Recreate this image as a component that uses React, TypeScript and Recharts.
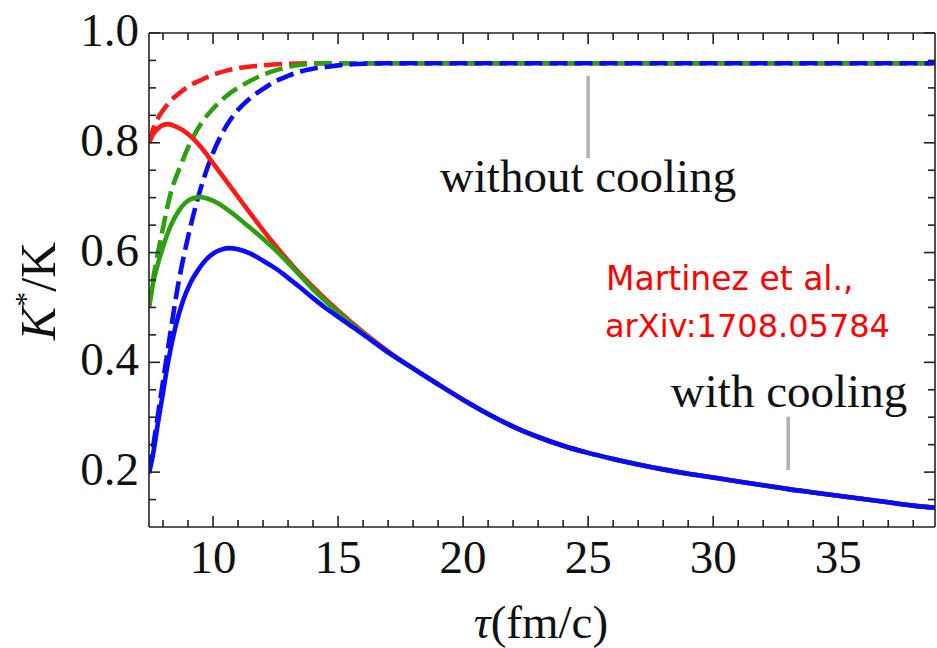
import { Line, LineChart, ReferenceLine, XAxis, YAxis } from 'recharts';

// ---- axes ----
const X_DOMAIN: [number, number] = [7.44, 38.87];
const Y_DOMAIN: [number, number] = [0.1, 1.0];
const X_TICKS = [8, 9, 10, 11, 12, 13, 14, 15, 16, 17, 18, 19, 20, 21, 22, 23, 24, 25, 26, 27, 28, 29, 30, 31, 32, 33, 34, 35, 36, 37, 38];
const Y_TICKS = [0.15, 0.2, 0.25, 0.3, 0.35, 0.4, 0.45, 0.5, 0.55, 0.6, 0.65, 0.7, 0.75, 0.8, 0.85, 0.9, 0.95, 1.0];

// ---- with cooling (solid) ----
const RED_SOLID_T = [7.44, 7.6, 7.8, 8.0, 8.2, 8.5, 9.0, 9.5, 10.0, 10.6, 11.3, 12.0, 12.6, 13.3, 14.0, 15.0, 16.0, 17.0];
const RED_SOLID_V = [0.8, 0.815, 0.826, 0.832, 0.834, 0.83, 0.816, 0.793, 0.763, 0.726, 0.683, 0.641, 0.607, 0.57, 0.537, 0.494, 0.455, 0.42];

const GREEN_SOLID_T = [7.44, 7.6, 7.8, 8.0, 8.3, 8.6, 8.9, 9.2, 9.5, 9.8, 10.2, 10.7, 11.3, 12.0, 12.6, 13.3, 14.0, 15.0, 16.0, 17.0];
const GREEN_SOLID_V = [0.5, 0.543, 0.58, 0.61, 0.648, 0.674, 0.691, 0.699, 0.701, 0.698, 0.69, 0.674, 0.652, 0.625, 0.6, 0.567, 0.533, 0.491, 0.453, 0.418];

const BLUE_SOLID_T = [7.44, 7.6, 7.8, 8.0, 8.2, 8.5, 8.8, 9.1, 9.4, 9.7, 10.0, 10.3, 10.6, 11.0, 11.5, 12.0, 12.5, 13.0, 13.5, 14.0, 14.5, 15.0, 15.5, 16.0, 17.0];
const BLUE_SOLID_V = [0.198, 0.232, 0.29, 0.345, 0.4, 0.465, 0.512, 0.545, 0.568, 0.586, 0.598, 0.605, 0.608, 0.606, 0.598, 0.585, 0.571, 0.554, 0.536, 0.517, 0.499, 0.483, 0.467, 0.451, 0.418];

// the three solid curves coincide from here on
const TAIL_T = [18, 19, 20, 21, 22, 23, 24, 25, 26, 27, 28, 29, 30, 31, 32, 33, 34, 35, 36, 37, 38, 38.87];
const TAIL_V = [0.389, 0.36, 0.332, 0.306, 0.283, 0.264, 0.248, 0.235, 0.224, 0.214, 0.205, 0.197, 0.19, 0.183, 0.176, 0.169, 0.163, 0.157, 0.151, 0.145, 0.139, 0.135];

// ---- without cooling (dashed) ----
const RED_DASH_T = [7.44, 7.6, 7.8, 8.0, 8.3, 8.7, 9.0, 9.5, 10.0, 10.5, 11.0, 12.0, 13.0, 14.0, 38.87];
const RED_DASH_V = [0.8, 0.824, 0.845, 0.859, 0.876, 0.892, 0.902, 0.914, 0.924, 0.931, 0.936, 0.941, 0.944, 0.945, 0.945];

const GREEN_DASH_T = [7.44, 7.6, 7.8, 8.0, 8.3, 8.7, 9.1, 9.6, 10.0, 10.5, 11.0, 11.5, 12.0, 12.5, 13.0, 13.5, 14.5, 38.87];
const GREEN_DASH_V = [0.5, 0.55, 0.6, 0.645, 0.707, 0.758, 0.801, 0.84, 0.862, 0.884, 0.9, 0.913, 0.924, 0.932, 0.938, 0.942, 0.945, 0.945];

const BLUE_DASH_T = [7.44, 7.6, 7.8, 8.0, 8.3, 8.6, 9.0, 9.4, 9.9, 10.5, 11.0, 11.5, 12.0, 12.5, 13.0, 13.5, 14.0, 14.5, 15.0, 16.0, 17.0, 38.87];
const BLUE_DASH_V = [0.2, 0.245, 0.305, 0.365, 0.455, 0.54, 0.628, 0.7, 0.77, 0.828, 0.86, 0.882, 0.898, 0.912, 0.922, 0.93, 0.935, 0.938, 0.941, 0.944, 0.945, 0.945];

const RED = '#ff1a1a';
const GREEN = '#2f9f12';
const BLUE = '#0a0aff';
const FRAME = '#222';
const SERIF = '"Liberation Serif", "Times New Roman", serif';
const LINE_W = 4.6;
const DASH = '18 7';

const zip = (t: number[], v: number[]) => t.map((x, i) => ({ t: x, v: v[i] }));

const redSolid = zip([...RED_SOLID_T, ...TAIL_T], [...RED_SOLID_V, ...TAIL_V]);
const greenSolid = zip([...GREEN_SOLID_T, ...TAIL_T], [...GREEN_SOLID_V, ...TAIL_V]);
const blueSolid = zip([...BLUE_SOLID_T, ...TAIL_T], [...BLUE_SOLID_V, ...TAIL_V]);
const redDash = zip(RED_DASH_T, RED_DASH_V);
const greenDash = zip(GREEN_DASH_T, GREEN_DASH_V);
const blueDash = zip(BLUE_DASH_T, BLUE_DASH_V);

const isMajorX = (v: number) => v % 5 === 0;
const isMajorY = (v: number) => Math.abs(v * 5 - Math.round(v * 5)) < 1e-6;

const LABEL_STYLE = { fontFamily: SERIF, fontSize: 47, fill: '#111' };

function BottomTick({ x, y, payload }: any) {
  const major = isMajorX(payload.value);
  return (
    <g>
      <line x1={x} x2={x} y1={y} y2={y - (major ? 11 : 7)} stroke={FRAME} strokeWidth={1.6} />
      {major && (
        <text x={x} y={y + 46} textAnchor="middle" {...LABEL_STYLE}>
          {payload.value}
        </text>
      )}
    </g>
  );
}

function TopTick({ x, y, payload }: any) {
  const major = isMajorX(payload.value);
  return <line x1={x} x2={x} y1={y} y2={y + (major ? 11 : 7)} stroke={FRAME} strokeWidth={1.6} />;
}

function LeftTick({ x, y, payload }: any) {
  const major = isMajorY(payload.value);
  return (
    <g>
      <line x1={x} x2={x + (major ? 11 : 7)} y1={y} y2={y} stroke={FRAME} strokeWidth={1.6} />
      {major && (
        <text x={x - 10} y={y + 13} textAnchor="end" {...LABEL_STYLE}>
          {payload.value.toFixed(1)}
        </text>
      )}
    </g>
  );
}

function RightTick({ x, y, payload }: any) {
  const major = isMajorY(payload.value);
  return <line x1={x} x2={x - (major ? 11 : 7)} y1={y} y2={y} stroke={FRAME} strokeWidth={1.6} />;
}

const AXIS_LINE = { stroke: FRAME, strokeWidth: 1.6 };

export default function App() {
  return (
    <div style={{ position: 'absolute', left: 0, top: 0, width: 937, height: 648, background: '#fff' }}>
      <LineChart width={937} height={648} margin={{ top: 0, right: 0, bottom: 0, left: 0 }}>
        <XAxis
          dataKey="t"
          type="number"
          domain={X_DOMAIN}
          allowDataOverflow
          ticks={X_TICKS}
          interval={0}
          height={121}
          tickSize={0}
          tickMargin={0}
          tickLine={false}
          axisLine={AXIS_LINE}
          tick={BottomTick}
        />
        <XAxis
          xAxisId="top"
          orientation="top"
          dataKey="t"
          type="number"
          domain={X_DOMAIN}
          allowDataOverflow
          ticks={X_TICKS}
          interval={0}
          height={33}
          tickSize={0}
          tickMargin={0}
          tickLine={false}
          axisLine={AXIS_LINE}
          tick={TopTick}
        />
        <YAxis
          type="number"
          domain={Y_DOMAIN}
          allowDataOverflow
          ticks={Y_TICKS}
          interval={0}
          width={149}
          tickSize={0}
          tickMargin={0}
          tickLine={false}
          axisLine={AXIS_LINE}
          tick={LeftTick}
        />
        <YAxis
          yAxisId="right"
          orientation="right"
          type="number"
          domain={Y_DOMAIN}
          allowDataOverflow
          ticks={Y_TICKS}
          interval={0}
          width={2}
          tickSize={0}
          tickMargin={0}
          tickLine={false}
          axisLine={AXIS_LINE}
          tick={RightTick}
        />

        <ReferenceLine segment={[{ x: 25, y: 0.772 }, { x: 25, y: 0.922 }]} stroke="#b0b0b0" strokeWidth={3.5} />
        <ReferenceLine segment={[{ x: 33, y: 0.204 }, { x: 33, y: 0.301 }]} stroke="#b0b0b0" strokeWidth={3.5} />

        <Line data={redDash} dataKey="v" type="monotone" stroke={RED} strokeWidth={LINE_W} strokeDasharray={DASH} dot={false} isAnimationActive={false} />
        <Line data={greenDash} dataKey="v" type="monotone" stroke={GREEN} strokeWidth={LINE_W} strokeDasharray={DASH} dot={false} isAnimationActive={false} />
        <Line data={blueDash} dataKey="v" type="monotone" stroke={BLUE} strokeWidth={LINE_W} strokeDasharray={DASH} dot={false} isAnimationActive={false} />
        <Line data={redSolid} dataKey="v" type="monotone" stroke={RED} strokeWidth={LINE_W} dot={false} isAnimationActive={false} />
        <Line data={greenSolid} dataKey="v" type="monotone" stroke={GREEN} strokeWidth={LINE_W} dot={false} isAnimationActive={false} />
        <Line data={blueSolid} dataKey="v" type="monotone" stroke={BLUE} strokeWidth={LINE_W} dot={false} isAnimationActive={false} />
      </LineChart>

      <svg width={937} height={648} style={{ position: 'absolute', left: 0, top: 0, pointerEvents: 'none' }}>
        <text x={588} y={192} textAnchor="middle" {...LABEL_STYLE}>without cooling</text>
        <text x={789} y={407} textAnchor="middle" {...LABEL_STYLE}>with cooling</text>
        <text x={606} y={290} fontFamily='"DejaVu Sans", sans-serif' fontSize={33} fill="#ff0000">Martinez et al.,</text>
        <text x={605} y={337} fontFamily='"DejaVu Sans", sans-serif' fontSize={32} fill="#ff0000">arXiv:1708.05784</text>
        <text x={541} y={638} textAnchor="middle" {...LABEL_STYLE}>
          <tspan fontStyle="italic">τ</tspan>(fm/c)
        </text>
        <text x={55} y={291} transform="rotate(-90 55 291)" textAnchor="middle" {...LABEL_STYLE} fontSize={50}>
          <tspan fontStyle="italic">K</tspan>
          <tspan fontSize={30} dy={-20}>*</tspan>
          <tspan dy={20}>/K</tspan>
        </text>
      </svg>
    </div>
  );
}
